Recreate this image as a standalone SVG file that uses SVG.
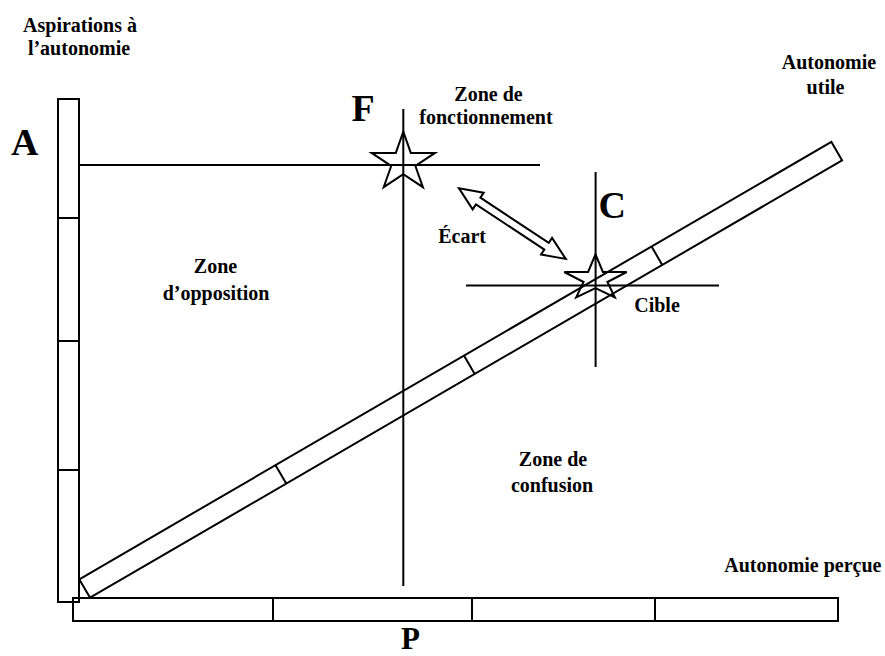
<svg xmlns="http://www.w3.org/2000/svg" width="885" height="656" viewBox="0 0 885 656">
<style>
.s{fill:none;stroke:#000;stroke-width:2}
.t{font-family:"Liberation Serif","Times New Roman",serif;font-weight:bold;font-size:20px;fill:#000}
.big{font-family:"Liberation Serif","Times New Roman",serif;font-weight:bold;font-size:38px;fill:#000}
</style>
<rect width="885" height="656" fill="#fff"/>
<g id="axis-A">
<rect class="s" x="58" y="99" width="21" height="503"/>
<line class="s" x1="58" y1="218" x2="79" y2="218"/>
<line class="s" x1="58" y1="341" x2="79" y2="341"/>
<line class="s" x1="58" y1="470" x2="79" y2="470"/>
</g>
<g id="axis-P">
<rect class="s" x="73" y="598" width="765" height="23"/>
<line class="s" x1="273" y1="598" x2="273" y2="621"/>
<line class="s" x1="472" y1="598" x2="472" y2="621"/>
<line class="s" x1="655" y1="598" x2="655" y2="621"/>
</g>
<g id="axis-utile" transform="translate(79.3,579.3) rotate(-30.18)">
<rect class="s" x="0" y="0" width="870" height="21.3"/>
<line class="s" x1="227" y1="0" x2="227" y2="21.3"/>
<line class="s" x1="445" y1="0" x2="445" y2="21.3"/>
<line class="s" x1="662" y1="0" x2="662" y2="21.3"/>
</g>
<g id="connectors">
<line class="s" x1="79" y1="165" x2="540" y2="165"/>
<line class="s" x1="403.3" y1="109" x2="403.3" y2="586"/>
<line class="s" x1="595.6" y1="172" x2="595.6" y2="367"/>
<line class="s" x1="466" y1="285.5" x2="719" y2="285.5"/>
<polygon id="ecart-arrow" class="s" transform="translate(459,188.3) rotate(33.5)" points="0,0 23,-10 23,-4 105,-4 105,-10 128,0 105,10 105,4 23,4 23,10"/>
</g>
<g id="star-F">
<polygon class="s" points="403.3,131.7 410.8,152.9 435,152.9 415.4,166 422.9,187.2 403.3,174.1 383.7,187.2 391.2,166 371.6,152.9 395.8,152.9"/>
</g>
<g id="star-C">
<polygon class="s" points="595.5,254.3 602.9,272 626.7,272 607.4,282 614.8,297.4 595.5,288 576.2,297.4 583.6,282 564.3,272 588.1,272"/>
</g>
<g id="labels">
<text class="t" x="80" y="31.7" text-anchor="middle">Aspirations à</text>
<text class="t" x="79" y="55" text-anchor="middle">l’autonomie</text>
<text class="big" x="11" y="155">A</text>
<text class="big" x="351.5" y="120.7">F</text>
<text class="big" x="598.5" y="218.3">C</text>
<text class="big" x="401" y="649" style="font-size:31px">P</text>
<text class="t" x="488.5" y="100.7" text-anchor="middle">Zone de</text>
<text class="t" x="486" y="124.3" text-anchor="middle">fonctionnement</text>
<text class="t" x="829" y="69" text-anchor="middle">Autonomie</text>
<text class="t" x="825.5" y="94.3" text-anchor="middle">utile</text>
<text class="t" x="486" y="243.3" text-anchor="end">Écart</text>
<text class="t" x="215.5" y="273.3" text-anchor="middle">Zone</text>
<text class="t" x="216" y="300" text-anchor="middle">d’opposition</text>
<text class="t" x="657" y="311.7" text-anchor="middle">Cible</text>
<text class="t" x="553" y="465.7" text-anchor="middle">Zone de</text>
<text class="t" x="552" y="491.7" text-anchor="middle">confusion</text>
<text class="t" x="881.5" y="571.7" text-anchor="end">Autonomie perçue</text>
</g>
</svg>
